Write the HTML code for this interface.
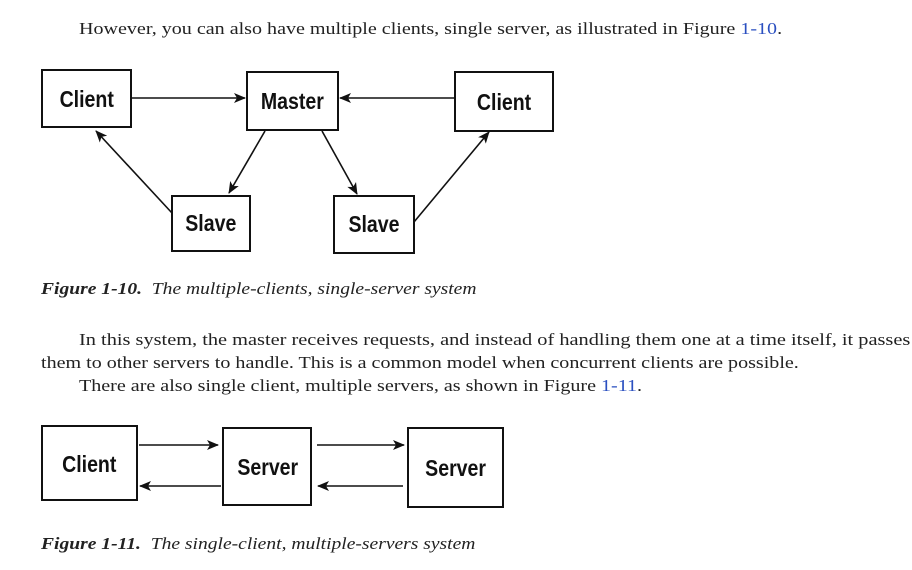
<!DOCTYPE html>
<html><head><style>
body{margin:0;width:912px;height:570px;background:#fff;position:relative;overflow:hidden;font-family:"Liberation Serif",serif;color:#222}
.t{position:absolute;white-space:nowrap;font-size:17px;transform-origin:0 0}
.s1{transform:scaleX(1.18)}
.s2{transform:scaleX(1.15)}
.b{color:#2a4fc0}
.c{font-style:italic}
</style></head><body>
<div class="t s1" style="left:79px;top:19px">However, you can also have multiple clients, single server, as illustrated in Figure <span class="b">1-10</span>.</div>
<div class="t c s2" style="left:41px;top:279px"><b>Figure 1-10.</b>&nbsp; The multiple-clients, single-server system</div>
<div class="t" style="left:79px;top:330px;transform:scaleX(1.197)">In this system, the master receives requests, and instead of handling them one at a time itself, it passes</div>
<div class="t s1" style="left:41px;top:353px">them to other servers to handle. This is a common model when concurrent clients are possible.</div>
<div class="t s1" style="left:79px;top:376px">There are also single client, multiple servers, as shown in Figure <span class="b">1-11</span>.</div>
<div class="t c s2" style="left:41px;top:534px"><b>Figure 1-11.</b>&nbsp; The single-client, multiple-servers system</div>
<svg width="912" height="570" style="position:absolute;left:0;top:0" font-family="Liberation Sans, sans-serif" font-size="23" font-weight="bold">
<defs><marker id="a" viewBox="0 0 12 10" refX="11" refY="5" markerWidth="12" markerHeight="10" markerUnits="userSpaceOnUse" orient="auto"><path d="M0,0 L12,5 L0,10 L3,5 Z" fill="#111"/></marker></defs>
<g fill="#fff" stroke="#111" stroke-width="2">
<rect x="42" y="70" width="89" height="57"/>
<rect x="247" y="72" width="91" height="58"/>
<rect x="455" y="72" width="98" height="59"/>
<rect x="172" y="196" width="78" height="55"/>
<rect x="334" y="196" width="80" height="57"/>
<rect x="42" y="426" width="95" height="74"/>
<rect x="223" y="428" width="88" height="77"/>
<rect x="408" y="428" width="95" height="79"/>
</g>
<g stroke="#111" stroke-width="1.6" marker-end="url(#a)">
<line x1="132" y1="98" x2="245" y2="98"/>
<line x1="455" y1="98" x2="340" y2="98"/>
<line x1="265" y1="131" x2="229" y2="193"/>
<line x1="322" y1="131" x2="357" y2="194"/>
<line x1="172" y1="213" x2="96" y2="131"/>
<line x1="414" y1="222" x2="489" y2="132"/>
<line x1="139" y1="445" x2="218" y2="445"/>
<line x1="317" y1="445" x2="404" y2="445"/>
<line x1="221" y1="486" x2="140" y2="486"/>
<line x1="403" y1="486" x2="318" y2="486"/>
</g>
<g fill="#111" text-anchor="middle" transform="scale(0.85,1)">
<text x="102" y="107">Client</text>
<text x="344" y="109">Master</text>
<text x="593" y="110">Client</text>
<text x="248" y="231">Slave</text>
<text x="440" y="232">Slave</text>
<text x="105" y="472">Client</text>
<text x="315" y="475">Server</text>
<text x="536" y="476">Server</text>
</g>
</svg>
</body></html>
